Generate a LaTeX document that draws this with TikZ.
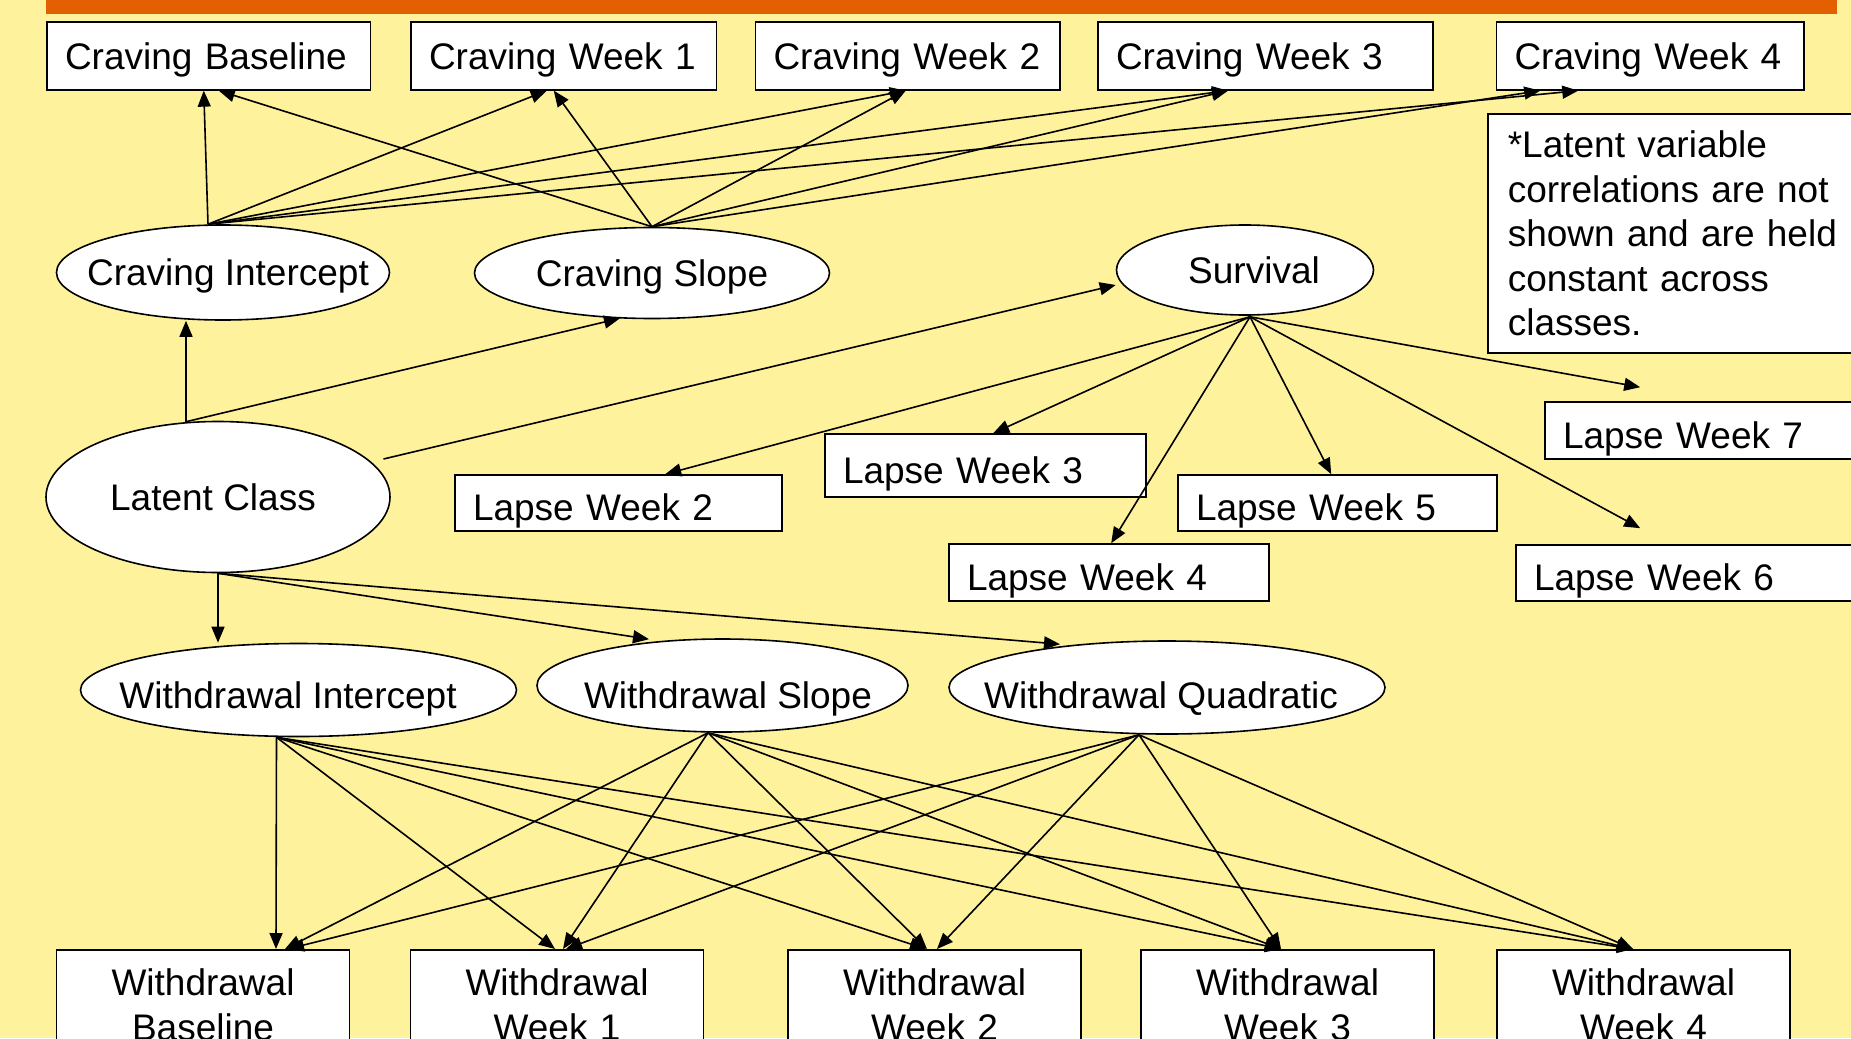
\documentclass[tikz,border=0pt]{standalone}
\usepackage{fontspec}
\setmainfont{Liberation Sans}
\usepackage{tikz}
\usetikzlibrary{shapes.geometric, arrows.meta, calc}
\definecolor{slidebg}{HTML}{FFF29C}
\definecolor{barorange}{HTML}{E45F00}
\newcommand{\diagfont}{\fontsize{37pt}{44.5pt}\selectfont}
\newcommand{\ctr}[2][0pt]{\makebox[0pt]{\hspace*{#1}\hspace*{#1}#2}}

\begin{document}
\begin{tikzpicture}[x=1pt, y=-1pt, >={Triangle[length=16pt, width=13pt]},
    obs/.style={draw, rectangle, fill=white, line width=1.6pt, align=left, inner xsep=18pt, inner ysep=0pt, text depth=0pt, font=\diagfont},
    lapse/.style={obs, text height=35pt},
    latent/.style={draw, ellipse, fill=white, line width=1.6pt, inner sep=0pt, text depth=0pt, font=\diagfont},
    wbox/.style={draw, rectangle, fill=white, line width=1.6pt, align=center, anchor=north, text width=250pt, inner xsep=21.5pt, inner ysep=19pt, font=\diagfont},
    arr/.style={->, line width=1.6pt}]
\useasboundingbox (0,0) rectangle (1851,1038);
\clip (0,0) rectangle (1851,1038);
\fill[slidebg] (0,0) rectangle (1851,1038);
\fill[barorange] (46,0) rectangle (1837,14);

% craving indicators
\node[obs, text width=287.5pt, minimum height=68pt] (cb) at (208.75,55.85) {Craving Baseline};
\node[obs, text width=269.5pt, minimum height=68pt] (c1) at (563.75,55.85) {Craving Week 1};
\node[obs, text width=268.5pt, minimum height=68pt] (c2) at (907.75,55.85) {Craving Week 2};
\node[obs, text width=299pt, minimum height=68pt] (c3) at (1265.5,55.85) {Craving Week 3};
\node[obs, text width=271.5pt, minimum height=68pt] (c4) at (1650.25,55.85) {Craving Week 4};

\node[obs, anchor=north west, text depth=, text width=340pt, inner xsep=20pt, inner ysep=17pt] (note) at (1487,113.3)
  {*Latent variable\\correlations are not\\shown and are held\\constant across\\classes.};

% latent variables
\node[latent, minimum width=333pt, minimum height=95pt] (ci) at (223,272.5) {\ctr[5pt]{Craving Intercept}};
\node[latent, minimum width=355pt, minimum height=91pt] (cs) at (652,273) {\ctr{Craving Slope}};
\node[latent, minimum width=257pt, minimum height=90pt] (surv) at (1245,270) {\ctr[9pt]{Survival}};
\node[latent, minimum width=344pt, minimum height=151pt] (lc) at (218,497) {\ctr[-5pt]{Latent Class}};
\node[latent, minimum width=436pt, minimum height=93pt, text height=37pt] (wi) at (298.5,690) {\ctr[-10.5pt]{Withdrawal Intercept}};
\node[latent, minimum width=371pt, minimum height=93pt, text height=46pt] (ws) at (722.5,685.5) {\ctr[5.5pt]{Withdrawal Slope}};
\node[latent, minimum width=436pt, minimum height=93pt, text height=42pt] (wq) at (1167,687.5) {\ctr[-6pt]{Withdrawal Quadratic}};

% lapse indicators
\node[lapse, text width=291pt, minimum height=56pt] (lw2) at (618.5,503) {Lapse Week 2};
\node[lapse, text width=285pt, minimum height=63pt] (lw3) at (985.5,465.5) {Lapse Week 3};
\node[lapse, text width=284pt, minimum height=57pt] (lw4) at (1109,572.5) {Lapse Week 4};
\node[lapse, text width=283pt, minimum height=56pt] (lw5) at (1337.5,503) {Lapse Week 5};
\node[lapse, text width=319pt, minimum height=56pt] (lw6) at (1693.5,573) {Lapse Week 6};
\node[lapse, text width=299pt, minimum height=57pt] (lw7) at (1712.5,430.5) {Lapse Week 7};

% withdrawal indicators
\node[wbox] (wb) at (203,949) {Withdrawal\\Baseline};
\node[wbox] (w1) at (557,949) {Withdrawal\\Week 1};
\node[wbox] (w2) at (934.5,949) {Withdrawal\\Week 2};
\node[wbox] (w3) at (1287.5,949) {Withdrawal\\Week 3};
\node[wbox] (w4) at (1643.5,949) {Withdrawal\\Week 4};

\coordinate (ci-out) at ($(ci.north)+(-15,0)$);
\coordinate (cs-out) at (cs.north);
\coordinate (lc-up) at ($(lc.north)+(-32,1)$);
\coordinate (lc-right) at ($(lc.center)+(165.5,-38)$);
\coordinate (lc-down) at (lc.south);
\coordinate (surv-out) at ($(surv.south)+(5,1)$);
\coordinate (wi-out) at ($(wi.south)+(-22,0)$);
\coordinate (ws-out) at ($(ws.south)+(-14.5,0)$);
\coordinate (wq-out) at ($(wq.south)+(-28,0)$);

\foreach \src/\dst/\dx in {ci/cb/-5, cs/cb/10, ci/c1/-17, cs/c1/-10, ci/c2/-2, cs/c2/-2,
    ci/c3/-37.5, cs/c3/-37.5, ci/c4/-72, cs/c4/-110}
  \draw[arr] (\src-out) -- ($(\dst.south)+(\dx,0)$);

\draw[arr] (lc-up) -- (lc-up |- ci.south);
\draw[arr] (lc-up) -- ($(cs.south)+(-32,-1)$);
\draw[arr] (lc-right) -- ($(surv.west)+(0,15)$);
\draw[arr] (lc-down) -- (lc-down |- wi.north);
\draw[arr] (lc-down) -- ($(ws.north)+(-73.5,1)$);
\draw[arr] (lc-down) -- ($(wq.north)+(-107,4)$);

\foreach \dst/\dx/\dy in {lw2/211/0, lw3/169/0, lw4/163/0, lw5/154/0, lw6/125/-16, lw7/96/-14}
  \draw[arr] (surv-out) -- ($(\dst.north west)+(\dx,\dy)$);

\foreach \src/\dst/\dx in {wi/wb/73, ws/wb/82, wq/wb/85, wi/w1/-2, ws/w1/6, wq/w1/9,
    wi/w2/-8.5, ws/w2/-7.5, wq/w2/2.5, wi/w3/-6.5, ws/w3/-6.5, wq/w3/-6.5,
    wi/w4/-10.5, ws/w4/-10.5, wq/w4/-10.5}
  \draw[arr] (\src-out) -- ($(\dst.north)+(\dx,0)$);

\end{tikzpicture}
\end{document}
